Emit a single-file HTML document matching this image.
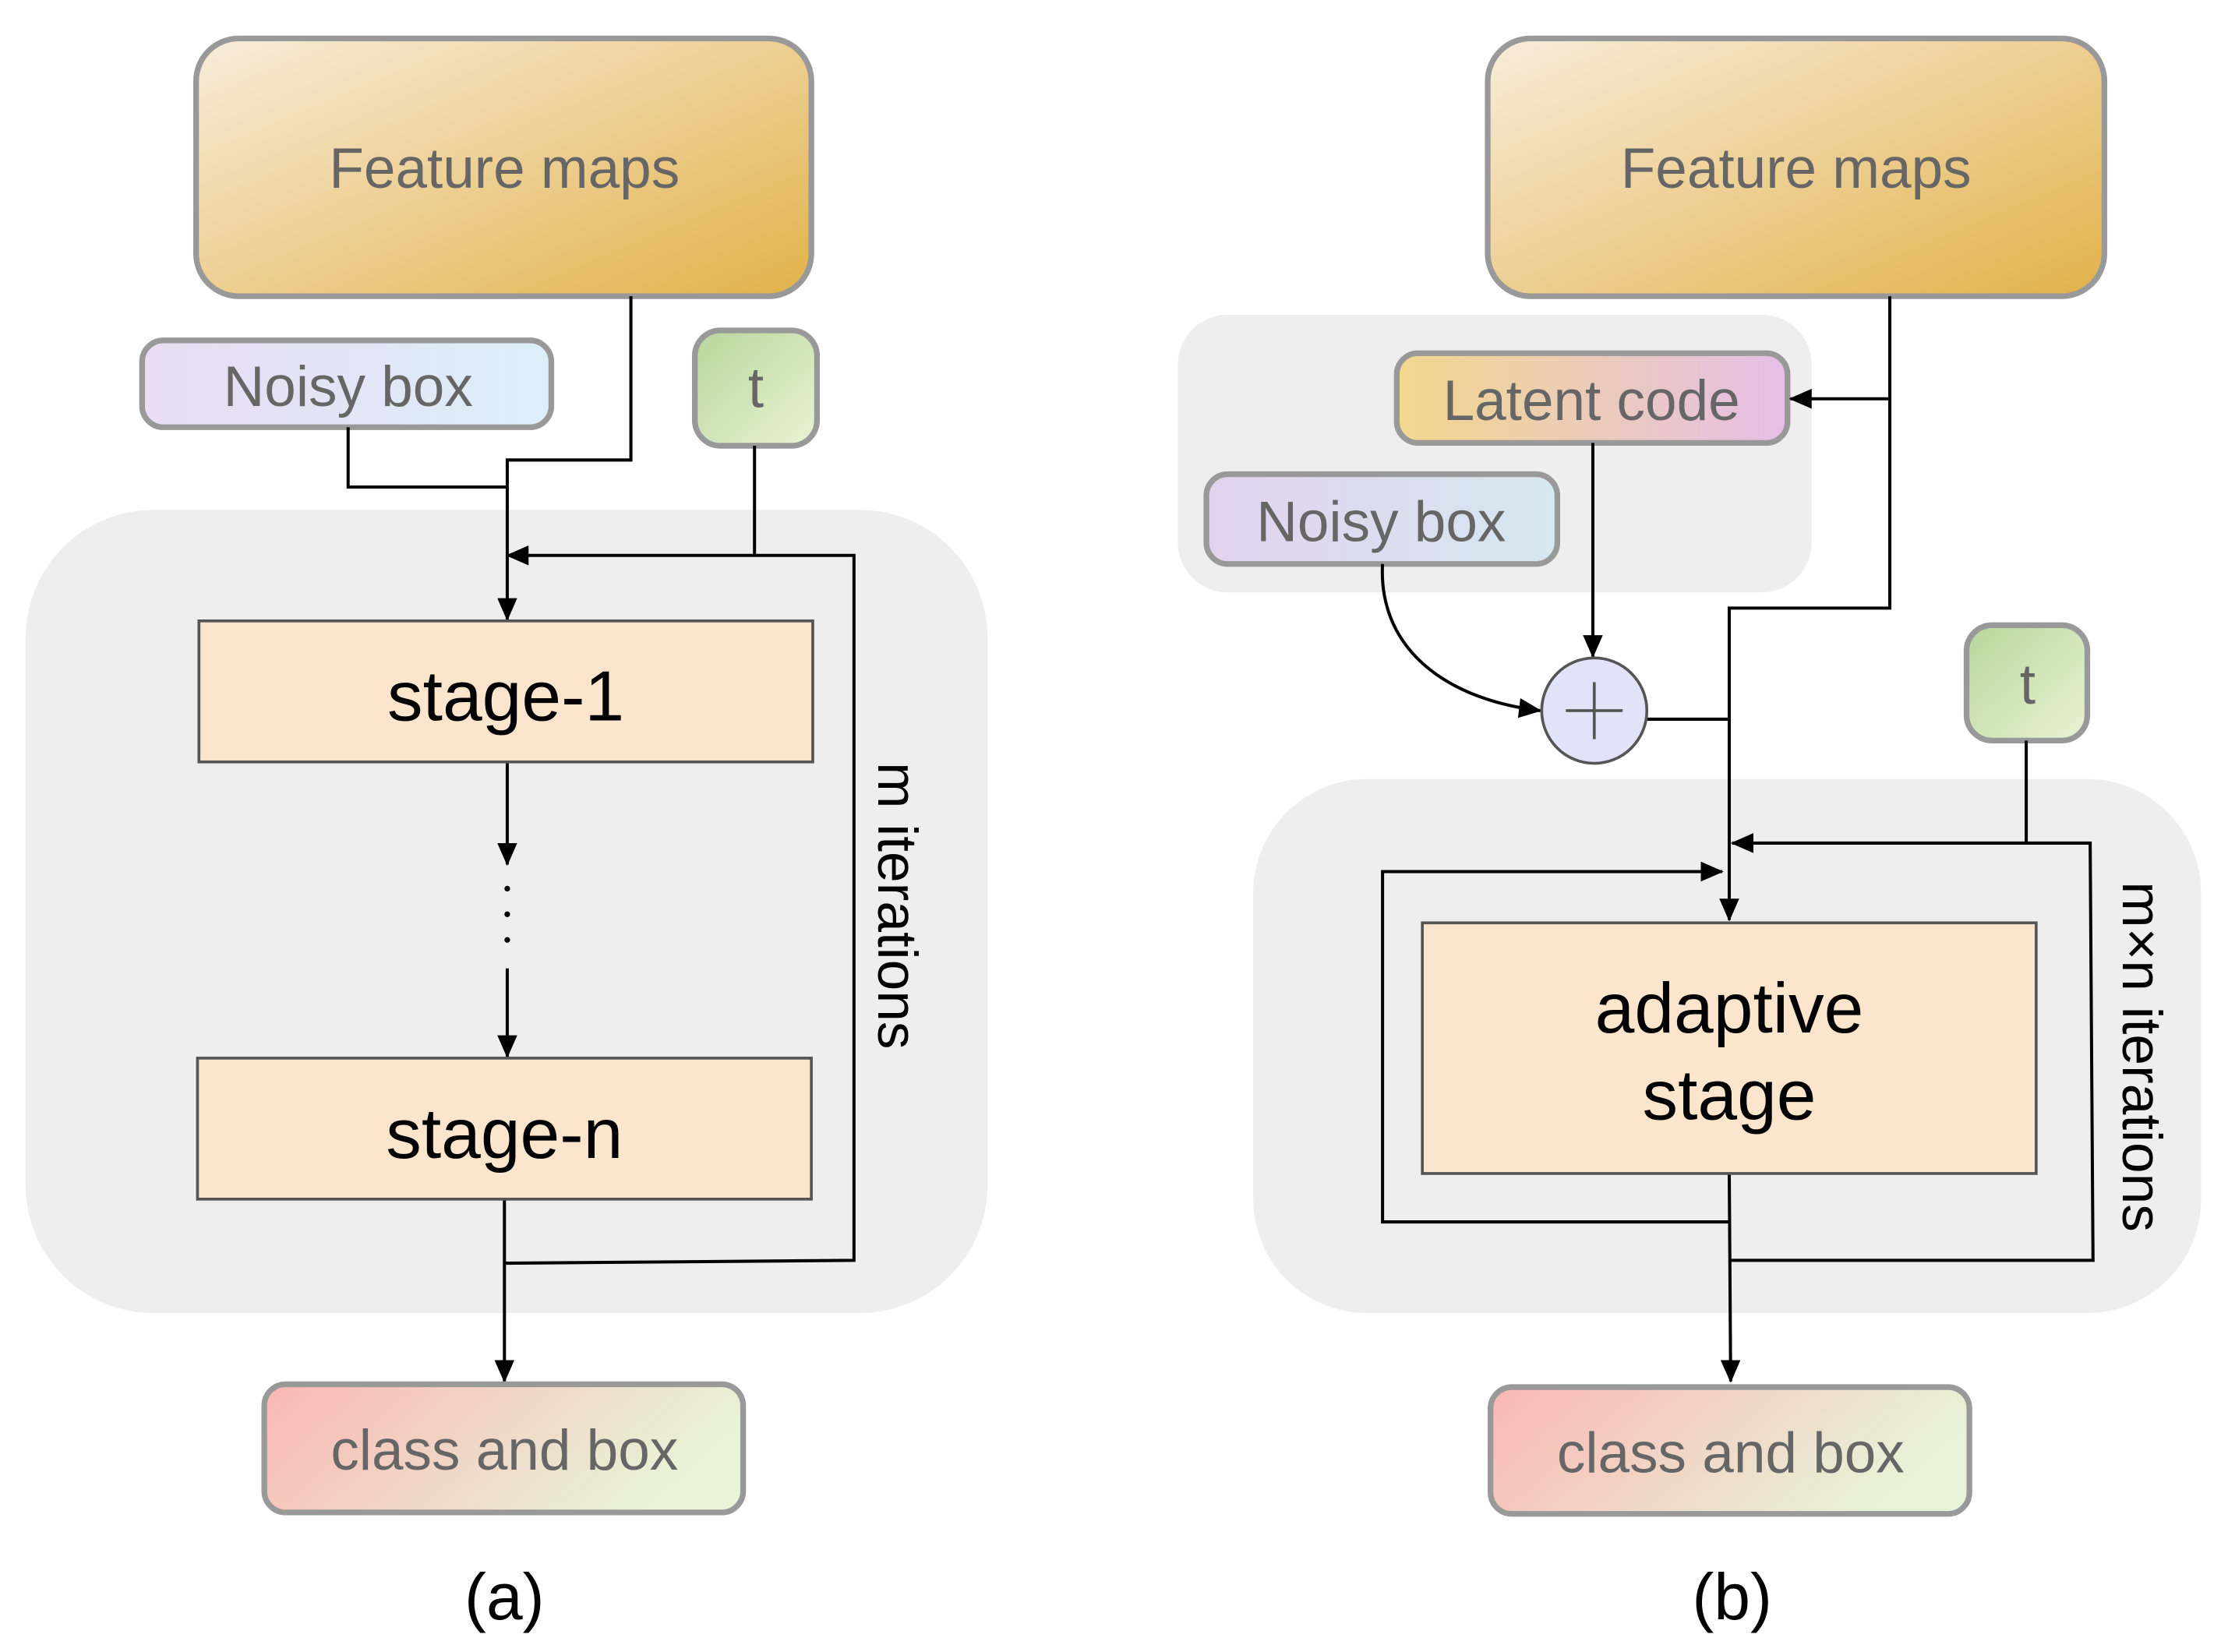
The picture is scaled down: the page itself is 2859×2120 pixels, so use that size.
<!DOCTYPE html>
<html><head><meta charset="utf-8"><style>
html,body{margin:0;padding:0;background:#fff;}
svg{display:block;}
text{font-family:"Liberation Sans",sans-serif;}
</style></head><body>
<svg width="2859" height="2120" viewBox="0 0 1568 1160" preserveAspectRatio="none" xmlns="http://www.w3.org/2000/svg">
<defs>
<linearGradient id="fm" x1="0" y1="0" x2="1" y2="1"><stop offset="0" stop-color="#f8ecdb"/><stop offset="1" stop-color="#e2b24a"/></linearGradient>
<linearGradient id="nb" x1="0" y1="0" x2="1" y2="0"><stop offset="0" stop-color="#eadcf4"/><stop offset="1" stop-color="#dbeffa"/></linearGradient>
<linearGradient id="nb2" x1="0" y1="0" x2="1" y2="0"><stop offset="0" stop-color="#e2d2ee"/><stop offset="1" stop-color="#d6e8f0"/></linearGradient>
<linearGradient id="tt" x1="0" y1="0" x2="1" y2="1"><stop offset="0" stop-color="#b7d69c"/><stop offset="1" stop-color="#eaf3d4"/></linearGradient>
<linearGradient id="cb" x1="0" y1="0" x2="1" y2="0.3"><stop offset="0" stop-color="#fab7b3"/><stop offset="1" stop-color="#e8f3d8"/></linearGradient>
<linearGradient id="lc" x1="0" y1="0" x2="1" y2="0"><stop offset="0" stop-color="#f1d88c"/><stop offset="1" stop-color="#e6bee8"/></linearGradient>
<marker id="ar" markerWidth="16" markerHeight="14" refX="15" refY="7" orient="auto" markerUnits="userSpaceOnUse" viewBox="0 0 16 14"><path d="M0,0 L16,7 L0,14 z" fill="#000"/></marker>
</defs>
<g id="a">
<rect x="18" y="358" width="677" height="564" rx="90" fill="#eeeeee"/>
<rect x="138" y="27" width="433" height="181" rx="30" fill="url(#fm)" stroke="#999" stroke-width="4"/>
<text x="355" y="132" font-size="40" fill="#666" text-anchor="middle">Feature maps</text>
<rect x="100" y="239" width="288" height="61" rx="15" fill="url(#nb)" stroke="#999" stroke-width="4"/>
<text x="245" y="285" font-size="40" fill="#666" text-anchor="middle">Noisy box</text>
<rect x="489" y="232" width="86" height="81" rx="18" fill="url(#tt)" stroke="#999" stroke-width="4"/>
<text x="532" y="286" font-size="40" fill="#666" text-anchor="middle">t</text>
<g fill="none" stroke="#000" stroke-width="2.2">
<polyline points="444,208 444,323 357,323 357,435" marker-end="url(#ar)"/>
<polyline points="245,300 245,342 357,342"/>
<polyline points="531,313 531,390"/>
<polyline points="355,887 601,885 601,390 357,390" marker-end="url(#ar)"/>
<line x1="357" y1="535" x2="357" y2="607" marker-end="url(#ar)"/>
<line x1="357" y1="680" x2="357" y2="742" marker-end="url(#ar)"/>
<line x1="355" y1="842" x2="355" y2="970" marker-end="url(#ar)"/>
</g>
<circle cx="357" cy="624" r="2" fill="#000"/><circle cx="357" cy="642" r="2" fill="#000"/><circle cx="357" cy="660" r="2" fill="#000"/>
<rect x="140" y="436" width="432" height="99" fill="#fce5cd" stroke="#555" stroke-width="2"/>
<text x="356" y="506" font-size="50" fill="#000" text-anchor="middle">stage-1</text>
<rect x="139" y="743" width="432" height="99" fill="#fce5cd" stroke="#555" stroke-width="2"/>
<text x="355" y="813" font-size="50" fill="#000" text-anchor="middle">stage-n</text>
<rect x="186" y="972" width="337" height="90" rx="15" fill="url(#cb)" stroke="#999" stroke-width="4"/>
<text x="355" y="1032" font-size="40" fill="#666" text-anchor="middle">class and box</text>
<text transform="translate(618,636) rotate(90)" font-size="39" fill="#000" text-anchor="middle">m iterations</text>
<text x="355" y="1137" font-size="46" fill="#000" text-anchor="middle">(a)</text>
</g>
<g id="b">
<rect x="829" y="221" width="446" height="195" rx="35" fill="#eeeeee"/>
<rect x="882" y="547" width="667" height="375" rx="80" fill="#eeeeee"/>
<rect x="1047" y="27" width="434" height="181" rx="30" fill="url(#fm)" stroke="#999" stroke-width="4"/>
<text x="1264" y="132" font-size="40" fill="#666" text-anchor="middle">Feature maps</text>
<rect x="983" y="248" width="275" height="63" rx="15" fill="url(#lc)" stroke="#999" stroke-width="4"/>
<text x="1120" y="295" font-size="40" fill="#666" text-anchor="middle">Latent code</text>
<rect x="849" y="333" width="247" height="63" rx="15" fill="url(#nb2)" stroke="#999" stroke-width="4"/>
<text x="972" y="380" font-size="40" fill="#666" text-anchor="middle">Noisy box</text>
<rect x="1384" y="439" width="85" height="81" rx="18" fill="url(#tt)" stroke="#999" stroke-width="4"/>
<text x="1427" y="494" font-size="40" fill="#666" text-anchor="middle">t</text>
<g fill="none" stroke="#000" stroke-width="2.2">
<polyline points="1330,208 1330,427 1217,427 1217,646" marker-end="url(#ar)"/>
<line x1="1330" y1="280" x2="1260" y2="280" marker-end="url(#ar)"/>
<line x1="1121" y1="311" x2="1121" y2="461" marker-end="url(#ar)"/>
<path d="M973,396 C970,450 1010,490 1084,499" marker-end="url(#ar)"/>
<line x1="1159" y1="505" x2="1217" y2="505"/>
<polyline points="1426,520 1426,592"/>
<polyline points="1217,885 1473,885 1471,592 1219,592" marker-end="url(#ar)"/>
<polyline points="1217,858 973,858 973,612 1212,612" marker-end="url(#ar)"/>
<line x1="1217" y1="824" x2="1218" y2="970" marker-end="url(#ar)"/>
</g>
<circle cx="1122" cy="499" r="37" fill="#e2e2f8" stroke="#555" stroke-width="2"/>
<line x1="1102" y1="499" x2="1142" y2="499" stroke="#555" stroke-width="2"/>
<line x1="1122" y1="479" x2="1122" y2="519" stroke="#555" stroke-width="2"/>
<rect x="1001" y="648" width="432" height="176" fill="#fce5cd" stroke="#555" stroke-width="2"/>
<text x="1217" y="725" font-size="50" fill="#000" text-anchor="middle">adaptive</text>
<text x="1217" y="786" font-size="50" fill="#000" text-anchor="middle">stage</text>
<rect x="1049" y="974" width="337" height="89" rx="15" fill="url(#cb)" stroke="#999" stroke-width="4"/>
<text x="1218" y="1034" font-size="40" fill="#666" text-anchor="middle">class and box</text>
<text transform="translate(1494,742) rotate(90)" font-size="39" fill="#000" text-anchor="middle">m×n iterations</text>
<text x="1219" y="1137" font-size="46" fill="#000" text-anchor="middle">(b)</text>
</g>
</svg>
</body></html>
